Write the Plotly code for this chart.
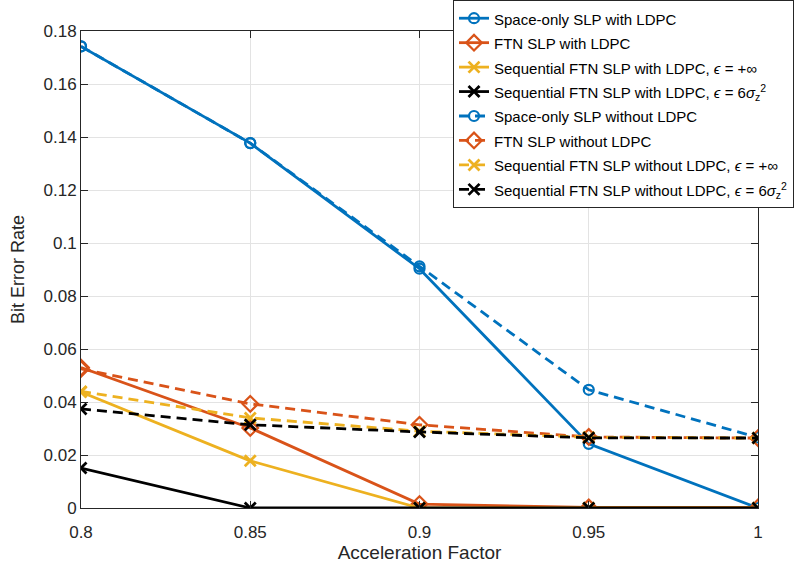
import plotly.graph_objects as go

x = [0.8, 0.85, 0.9, 0.95, 1.0]

space_ldpc = [0.1742, 0.1377, 0.0903, 0.0242, 0.0]
ftn_ldpc = [0.0530, 0.0302, 0.0015, 0.0002, 0.0002]
seq_inf_ldpc = [0.0438, 0.0178, 0.0, 0.0, 0.0]
seq_6s_ldpc = [0.0151, 0.0, 0.0, 0.0, 0.0]
space_noldpc = [0.1742, 0.1377, 0.0912, 0.0446, 0.0266]
ftn_noldpc = [0.0525, 0.0393, 0.0314, 0.0268, 0.0264]
seq_inf_noldpc = [0.0440, 0.0340, 0.0290, 0.0267, 0.0264]
seq_6s_noldpc = [0.0374, 0.0314, 0.0287, 0.0265, 0.0264]

names = [
    "Space-only SLP with LDPC",
    "FTN SLP with LDPC",
    "Sequential FTN SLP with LDPC, <i>ϵ</i> = +∞",
    "Sequential FTN SLP with LDPC, <i>ϵ</i> = 6<i>σ</i><sub>z</sub><sup>2</sup>",
    "Space-only SLP without LDPC",
    "FTN SLP without LDPC",
    "Sequential FTN SLP without LDPC, <i>ϵ</i> = +∞",
    "Sequential FTN SLP without LDPC, <i>ϵ</i> = 6<i>σ</i><sub>z</sub><sup>2</sup>",
]
series = [space_ldpc, ftn_ldpc, seq_inf_ldpc, seq_6s_ldpc,
          space_noldpc, ftn_noldpc, seq_inf_noldpc, seq_6s_noldpc]
colors = ["#0072BD", "#D95319", "#EDB120", "#000000"] * 2
symbols = ["circle-open", "diamond-open", "x-thin-open", "x-thin-open"] * 2
sizes = [10, 12, 11, 11] * 2
dashes = ["solid"] * 4 + ["10px,6px"] * 4

fig = go.Figure()
for i in range(8):
    fig.add_trace(go.Scatter(
        x=x, y=series[i],
        name='<span style="font-size:15px">' + names[i] + '</span>',
        mode="lines+markers",
        line=dict(color=colors[i], width=2.8, dash=dashes[i]),
        marker=dict(symbol=symbols[i], size=sizes[i], color=colors[i],
                    line=dict(color=colors[i], width=2.8 if "x" in symbols[i] else 2.2)),
    ))

axis_common = dict(
    showgrid=True, gridcolor="#e3e3e3", gridwidth=1,
    showline=True, linecolor="#262626", linewidth=1, mirror="ticks",
    ticks="inside", ticklen=7, tickcolor="#262626",
    tickfont=dict(size=17, color="#262626"),
    zeroline=False,
)

fig.update_layout(
    width=800, height=571,
    margin=dict(l=81, r=42, t=31, b=63, autoexpand=False),
    paper_bgcolor="white", plot_bgcolor="white",
    font=dict(family="Liberation Sans, Arial, sans-serif", color="#262626"),
    xaxis=dict(range=[0.8, 1.0], tickvals=x, ticktext=["0.8", "0.85", "0.9", "0.95", "1"],
               ticklabelstandoff=9,
               title=dict(text="Acceleration Factor", font=dict(size=19), standoff=3),
               **axis_common),
    yaxis=dict(range=[0, 0.18], tickvals=[0, 0.02, 0.04, 0.06, 0.08, 0.1, 0.12, 0.14, 0.16, 0.18],
               ticktext=["0", "0.02", "0.04", "0.06", "0.08", "0.1", "0.12", "0.14", "0.16", "0.18"],
               title=dict(text="Bit Error Rate", font=dict(size=18), standoff=14),
               **axis_common),
    legend=dict(x=0.5495, y=1.065, xanchor="left", yanchor="top",
                bgcolor="white", bordercolor="#262626", borderwidth=1,
                font=dict(size=16.5, color="#000000"), tracegroupgap=0,
                itemwidth=30),
    showlegend=True,
)

fig.write_html("out.html")
